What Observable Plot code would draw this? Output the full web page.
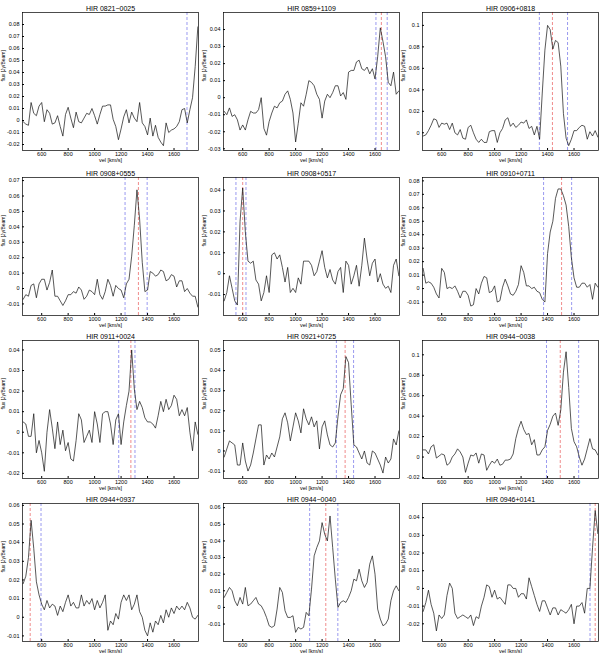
<!DOCTYPE html>
<html><head><meta charset="utf-8">
<script src="https://cdn.jsdelivr.net/npm/d3@7"></script>
<script src="https://cdn.jsdelivr.net/npm/@observablehq/plot@0.6"></script>
<style>
html,body{margin:0;padding:0;background:#fff;overflow:hidden}
#fig{position:relative;width:600px;height:653px;font-family:"Liberation Sans",Arial,sans-serif}
#fig svg{position:absolute}
</style></head><body><div id="fig"></div>
<script>
// velocity channels (km/s)
const vel = [460,480,500,520,540,560,580,600,620,640,660,680,700,720,740,760,780,800,820,840,860,880,900,920,940,960,980,1000,1020,1040,1060,1080,1100,1120,1140,1160,1180,1200,1220,1240,1260,1280,1300,1320,1340,1360,1380,1400,1420,1440,1460,1480,1500,1520,1540,1560,1580,1600,1620,1640,1660,1680,1700,1720,1740,1760,1780];
const xTicks = [600,800,1000,1200,1400,1600];

const titles = ["HIR 0821\u22120025","HIR 0859+1109","HIR 0906+0818","HIR 0908+0555","HIR 0908+0517","HIR 0910+0711","HIR 0911+0024","HIR 0921+0725","HIR 0944\u22120038","HIR 0944+0937","HIR 0944\u22120040","HIR 0946+0141"];

// flux in mJy/beam
const flux0821m0025 = [-1,-3,-4,15,6,4,12,15,-1,9, 6,-3,-2,4,-5,-13,5,11,2,-6, 7,-1,-2,2,6,5,10,4,-3,5, 12,12,13,13,1,-5,-16,-7,3,9, -2,7,2,-1,15,-2,-5,-12,2,-13, -4,-14,-18,-21,-2,-10,-8,-7,-5,-1, 9,10,-2,9,19,45,78];
const flux0859p1109 = [-8,-10,-6,-11,-10,-13,-19,-16,-19,-13, -8,-9,-9,-7,0,-18,-22,-14,-9,-5, -6,-3,-2,2,4,-1,-9,-26,-15,-3, -5,2,10,9,7,2,-1,-12,-2,2, 0,3,7,7,1,3,-1,15,16,16, 21,22,17,16,18,14,17,11,24,41, 33,24,9,7,15,2,4];
const flux0906p0818 = [-3,-2,2,7,13,12,5,9,8,9, 3,9,0,-2,3,-5,-6,5,7,0, -6,-9,-6,-9,-9,1,2,2,-9,0, 4,12,14,6,9,5,7,10,9,12, 4,6,-2,6,-6,37,77,100,96,78, 86,84,62,18,-5,-12,-6,2,2,5, 7,6,-6,1,-3,2,-4];
const flux0908p0555 = [-7,-4,-5,2,3,-6,3,6,6,-1, 4,12,-5,-5,-8,-11,-8,-4,-4,-2, -3,1,-1,-7,-5,-1,-2,-4,6,-4, -7,-2,6,2,-5,2,0,-1,-6,3, 6,21,41,64,45,17,-2,-1,11,10, 8,9,12,11,5,6,9,8,1,5, 5,-2,0,-3,-5,-5,-12];
const flux0908p0517 = [-13,-9,-1,-7,-13,-15,25,41,20,6, 5,6,-3,-5,-13,-9,-1,-9,9,10, 7,9,3,-4,3,-9,-7,-9,-2,-5, 6,6,6,4,-1,1,6,11,3,-2, 2,-3,-5,1,3,-9,6,4,-5,-1, 4,-6,4,17,7,-1,5,7,-4,0, -5,-7,-6,-9,4,7,-1];
const flux0910p0711 = [15,4,5,4,1,-4,-7,15,12,0, 1,0,2,-2,-7,-2,-2,-5,-13,-12, 0,-4,4,9,8,-3,-2,2,-10,-9, 1,7,2,-4,-5,-2,3,17,12,2, 2,0,1,-2,-3,-8,-10,26,42,50, 67,74,74,69,62,46,23,8,1,1, 4,4,1,3,-8,4,1];
const flux0911p0024 = [5,4,-2,-2,9,-10,-4,-10,-19,0, 11,2,-8,5,-6,1,-9,-5,-13,-14, -4,9,6,-5,-2,1,-5,10,4,-5, 9,10,10,4,-6,6,9,-6,5,13, 20,40,21,11,15,12,7,5,5,4, 2,8,15,10,16,11,13,18,16,8, 11,8,12,0,-9,5,-1];
const flux0921p0725 = [-3,1,5,4,3,-7,-7,4,-5,-10, -7,-1,6,13,13,-7,-2,-4,-1,-3, 2,7,16,19,14,5,12,19,15,9, 21,16,13,17,12,15,1,12,15,8, 3,2,4,17,28,31,47,44,23,3, 2,-1,-4,0,-6,-7,0,-1,-4,-7, -11,-3,-6,-4,6,3,10];
const flux0944m0038 = [7,7,3,10,12,-1,1,3,2,-8, -6,0,3,8,5,0,-15,-6,2,1, 4,-6,3,2,-13,-8,-4,-6,-2,-8, -7,-3,-3,-2,3,18,28,35,27,22, 23,12,17,2,2,7,10,26,32,40, 43,31,46,83,103,68,28,15,10,0, -8,-2,8,18,8,7,2];
const flux0944p0937 = [18,22,32,52,37,19,12,7,4,9, 5,7,6,1,6,3,8,12,6,8, 5,5,12,6,9,7,10,4,9,5, 8,12,-7,-2,-4,2,-1,8,12,9, 12,4,7,12,3,0,-7,-10,-3,-8, -2,-4,1,-3,4,0,5,2,6,4, 6,4,8,5,0,-1,1];
const flux0944m0040 = [6,9,12,10,4,1,6,2,12,1, 2,4,6,2,1,-2,-6,-11,-12,-11, -1,12,9,-2,-6,-6,-5,-15,-12,-13, -12,-3,-5,11,31,36,40,51,44,40, 55,36,17,0,3,4,3,6,10,17, 16,23,16,12,15,26,31,20,-1,-7, -11,-10,-7,4,10,13,10];
const flux0946p0141 = [-13,-8,-1,-9,-14,-24,-15,-17,-15,-4, 3,0,-14,-17,-16,-15,-16,-17,-15,-21, -16,-17,-10,-5,2,1,-5,-1,-6,-5, -7,-9,2,2,0,0,-5,-3,-3,-6, 6,1,-4,-9,-13,-7,-7,-11,-15,-11, -11,-15,-12,-13,-14,-12,-9,-20,-10,-10, -8,-14,0,0,23,44,31];

// velocity markers (km/s): outer window (blue) and systemic (red)
const blueMarks = [[1698],[1607,1692],[1338,1551],[1230,1397],[549,625],[1370,1582],[1182,1305],[1308,1438],[1392,1635],[595],[1106,1319],[1721]];
const redMarks  = [[],[1648],[1437],[1331],[600],[1506],[1274],[1374],[1496],[513],[1228],[1760]];

// y ticks (Jy/beam) per panel
const yTicks = [
  [-0.02,-0.01,0,0.01,0.02,0.03,0.04,0.05,0.06,0.07,0.08],
  [-0.03,-0.02,-0.01,0,0.01,0.02,0.03,0.04],
  [0,0.02,0.04,0.06,0.08,0.1],
  [-0.01,0,0.01,0.02,0.03,0.04,0.05,0.06,0.07],
  [-0.01,0,0.01,0.02,0.03,0.04],
  [-0.01,0,0.01,0.02,0.03,0.04,0.05,0.06,0.07,0.08],
  [-0.02,-0.01,0,0.01,0.02,0.03,0.04],
  [-0.01,0,0.01,0.02,0.03,0.04,0.05],
  [-0.02,0,0.02,0.04,0.06,0.08,0.1],
  [-0.01,0,0.01,0.02,0.03,0.04,0.05,0.06],
  [-0.01,0,0.01,0.02,0.03,0.04,0.05,0.06],
  [-0.02,-0.01,0,0.01,0.02,0.03,0.04]
];
const yDomains = [
  [-0.025,0.09],[-0.031,0.05],[-0.0165,0.112],
  [-0.0175,0.072],[-0.02,0.046],[-0.02,0.0825],
  [-0.0225,0.0446],[-0.0137,0.055],[-0.021,0.114],
  [-0.013,0.061],[-0.0205,0.0625],[-0.03,0.048]
];
const fluxes = [flux0821m0025,flux0859p1109,flux0906p0818,flux0908p0555,flux0908p0517,flux0910p0711,flux0911p0024,flux0921p0725,flux0944m0038,flux0944p0937,flux0944m0040,flux0946p0141];

const colLeft = [22,223,422];
const rowTop = [12,177,340,503];
const mL = 22, mR = 2, mT = 12, mB = 14, fw = 176, fh = 138;
const fmtY = d => d === 0 ? "0" : d.toFixed(2).replace(/0$/, "");
const fig = document.getElementById("fig");

fluxes.forEach((flux, i) => {
  const r = Math.floor(i / 3), c = i % 3;
  const data = vel.map((v, k) => ({v, f: flux[k] / 1000}));
  const svg = Plot.plot({
    width: mL + fw + mR, height: mT + fh + mB,
    marginLeft: mL, marginRight: mR, marginTop: mT, marginBottom: mB,
    style: {background: "transparent", overflow: "visible", fontFamily: "'Liberation Sans', Arial, sans-serif", fontSize: "5.5px", color: "#000"},
    x: {domain: [455, 1785]},
    y: {domain: yDomains[i]},
    marks: [
      Plot.ruleX(blueMarks[i], {stroke: "#6f6fe8", strokeWidth: 0.7, strokeDasharray: "3,2"}),
      Plot.ruleX(redMarks[i], {stroke: "#e85a5a", strokeWidth: 0.7, strokeDasharray: "3,2"}),
      Plot.line(data, {x: "v", y: "f", stroke: "#111", strokeWidth: 0.7, clip: true}),
      Plot.frame({stroke: "#000", strokeWidth: 0.7}),
      Plot.axisX({ticks: xTicks, tickFormat: d => String(d), tickSize: -2, tickPadding: 4, label: null}),
      Plot.axisY({ticks: yTicks[i], tickFormat: fmtY, tickSize: -2, tickPadding: 5, label: null}),
      Plot.text([titles[i]], {frameAnchor: "top", dy: -6, fontSize: 7}),
      Plot.text(["vel [km/s]"], {frameAnchor: "bottom", dy: 11, fontSize: 5.5}),
      Plot.text(["flux [Jy/Beam]"], {frameAnchor: "left", rotate: -90, dx: -19, fontSize: 5})
    ]
  });
  svg.style.left = (colLeft[c] - mL) + "px";
  svg.style.top = (rowTop[r] - mT) + "px";
  fig.appendChild(svg);
});
</script>
</body></html>
